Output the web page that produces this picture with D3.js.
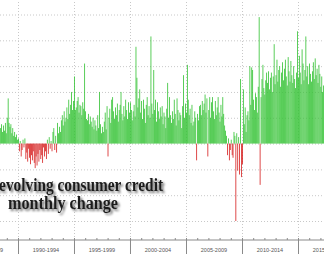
<!DOCTYPE html>
<html>
<head>
<meta charset="utf-8">
<script src="https://cdn.jsdelivr.net/npm/d3@7"></script>
<style>
  body { margin: 0; background: #fff; }
  svg { display: block; }
  .grid line { stroke: #c8c8c8; stroke-dasharray: 1,2; }
  .grid path { display: none; }
  .ticks line { stroke: #8a8a8a; }
  .ticks path { display: none; }
  .period { font-family: 'Liberation Sans', Arial, sans-serif; font-size: 5.5px; fill: #555; }
  .title { font-family: 'Liberation Serif', serif; font-weight: bold; font-size: 18px; fill: #1e1e1e; }
</style>
</head>
<body>
<svg width="324" height="254"></svg>
<script>
// revolving consumer credit, monthly change (first bar = Jun 1988)
const firstMonth = new Date(1988, 5, 1);

const v1988_1989 = [1.2, 1.5, 0.9, 1.4, 1.0, 1.6, 0.8, 2.0, 3.5, 1.6, 1.3, 1.5, 0.8, 1.2, 0.6, 0.9, 0.5, 0.7, 0.3];

const v1990_1994 = [
  0.4, -0.6, 0.2, -1.0, -0.5, 0.3, -0.3, 0.4, -1.2, -0.7, -1.4, -0.4,
  -1.1, -1.6, -0.9, -1.3, -0.6, -1.5, -1.9, -1.0, -1.7, -0.8, -1.4, -0.5,
  -1.2, -0.9, -1.5, -0.3, -1.0, -0.6, -1.2, 0.3, -0.8, 0.5, -0.4, 0.2,
  -0.6, 0.9, 1.2, -0.5, 0.6, -0.7, 1.6, 0.8, 1.3, 0.9, 1.8, 2.2,
  1.4, 2.5, 1.7, 2.0, 2.8, 1.9, 3.4, 2.3, 3.0, 4.0, 2.6, 3.3
];

const v1995_1999 = [
  5.2, 2.6, 2.8, 3.3, 3.6, 2.4, 3.0, 2.9, 2.2, 3.2, 2.7, 6.2,
  2.5, 1.9, 1.8, 2.3, 1.5, 2.1, 1.7, 1.3, 2.0, 1.1, 1.8, 1.4,
  1.0, 2.2, 1.2, 4.0, 1.5, 0.8, 1.3, 0.9, 1.7, 2.4, 1.1, 2.9,
  -1.0, 2.0, 2.7, 1.6, 3.4, 3.6, 2.5, 1.9, 2.8, 2.2, 3.1, 1.7,
  2.6, 3.0, 4.0, 2.3, 1.8, 2.9, 2.1, 3.4, 2.6, 1.9, 3.2, 2.4
];

const v2000_2004 = [
  3.2, 2.6, 1.8, 2.5, 3.0, 2.1, 7.5, 5.1, 2.8, 3.5, 4.2, 2.4,
  3.3, 1.9, 3.4, 2.7, 1.6, 3.0, 3.6, 2.2, 2.9, 2.0, 8.3, 3.1,
  2.3, 5.7, 2.6, 3.4, 1.7, 3.2, 2.5, 1.9, 2.8, 2.1, 2.9, 1.5,
  2.4, 2.1, 1.2, 2.7, 4.7, 2.0, 3.6, 2.2, 1.6, 2.5, 1.9, 3.4,
  2.3, 1.4, 3.5, 2.6, 1.8, 2.4, 2.2, 1.2, 2.9, 5.3, 2.0, 3.1
];

const v2005_2009 = [
  2.4, 6.1, 3.4, 2.2, 2.7, 1.6, 3.0, 1.4, 1.7, 2.5, 2.0, -1.3,
  2.3, 1.8, 2.9, 3.0, 2.2, 3.3, 2.6, 3.1, 3.8, 2.4, 3.5, -1.0,
  2.6, 3.6, 2.0, 3.2, 3.6, 2.5, 1.9, 3.3, 2.2, 2.8, 3.6, 2.4,
  1.7, 3.0, 2.1, 3.6, 2.3, 1.4, 1.0, 0.6, -0.9, 0.4, -1.3, -0.5,
  0.3, -0.9, -1.1, 0.9, 0.6, -6.0, 0.8, -2.1, 0.5, -2.4, 5.0, -2.6
];

const v2010_2014 = [
  -1.6, 4.2, 1.5, 2.8, 0.9, 2.2, 2.5, 1.8, 6.0, 3.0, 5.9, 5.7,
  3.4, 2.6, 3.9, 3.6, 2.4, 4.4, 9.8, -3.2, 3.6, 5.0, 6.1, 4.3,
  3.8, 4.9, 5.5, 4.7, 5.6, 4.2, 5.1, 5.5, 4.0, 5.2, 7.7, 4.6,
  5.3, 6.5, 4.8, 5.7, 6.0, 4.4, 5.5, 6.3, 4.9, 5.8, 6.5, 5.2,
  4.5, 6.7, 5.6, 4.8, 6.4, 5.3, 4.7, 6.0, 5.0, 4.3, 5.5, 8.7
];

const v2015_2017 = [
  5.1, 6.8, 5.5, 4.6, 7.3, 6.2, 4.9, 5.7, 8.3, 5.2, 6.0, 4.6,
  6.2, 5.4, 4.8, 5.6, 6.3, 5.0, 6.6, 5.3, 5.8, 4.7, 6.1, 5.4,
  4.4, 5.2, 4.0, 4.5
];

const periodLabels = ['1985-1989', '1990-1994', '1995-1999', '2000-2004', '2005-2009', '2010-2014', '2015-2019'];
const periodStarts = [1985, 1990, 1995, 2000, 2005, 2010, 2015];
const gridValues = [-6, -4, -2, 0, 2, 4, 6, 8, 10];
const titleLines = ['Revolving consumer credit', 'monthly change'];

const values = [].concat(v1988_1989, v1990_1994, v1995_1999, v2000_2004, v2005_2009, v2010_2014, v2015_2017);
const data = values.map((v, i) => ({ date: d3.timeMonth.offset(firstMonth, i), value: v }));

const W = 324, H = 254;
const axisY = 240;
const svg = d3.select('svg');

const x = d3.scaleTime()
  .domain([new Date(1990, 0, 1), new Date(2015, 0, 1)])
  .range([18, 298]);

const y = d3.scaleLinear()
  .domain([-6, 10])
  .range([221, 14.5]);

const step = x(new Date(1990, 1, 1)) - x(new Date(1990, 0, 1));

// horizontal dotted grid
svg.append('g')
  .attr('class', 'grid')
  .call(d3.axisLeft(y).tickValues(gridValues).tickSize(-W).tickFormat(''));

// vertical dotted grid at period boundaries
const majorDates = periodStarts.map((yr) => new Date(yr, 0, 1));
svg.append('g')
  .attr('class', 'grid')
  .attr('transform', `translate(0, ${axisY})`)
  .call(d3.axisBottom(x).tickValues(majorDates).tickSize(-axisY).tickFormat(''));

// bars
svg.append('g')
  .selectAll('rect')
  .data(data)
  .enter()
  .append('rect')
  .attr('x', (d) => x(d.date))
  .attr('y', (d) => y(Math.max(0, d.value)))
  .attr('width', step * 0.85)
  .attr('height', (d) => Math.abs(y(d.value) - y(0)))
  .attr('fill', (d) => d.value < 0 ? '#d62020' : '#33c233');

// axis line + ticks
svg.append('line')
  .attr('x1', 0).attr('x2', W)
  .attr('y1', axisY).attr('y2', axisY)
  .attr('stroke', '#8a8a8a');

const yearDates = d3.range(1986, 2018).map((yr) => new Date(yr, 0, 1));
svg.append('g')
  .attr('class', 'ticks')
  .attr('transform', `translate(0, ${axisY})`)
  .call(d3.axisBottom(x).tickValues(yearDates).tickSize(-2).tickFormat(''));

svg.append('g')
  .attr('class', 'ticks')
  .attr('transform', `translate(0, ${axisY})`)
  .call(d3.axisBottom(x).tickValues(majorDates).tickSize(H - axisY).tickFormat(''));

svg.append('g')
  .selectAll('text')
  .data(periodLabels)
  .enter()
  .append('text')
  .attr('class', 'period')
  .attr('x', (d, i) => x(new Date(periodStarts[i] + 2, 6, 1)))
  .attr('y', 252)
  .attr('text-anchor', 'middle')
  .text((d) => d);

// title with drop shadow
const defs = svg.append('defs');
defs.append('filter')
  .attr('id', 'shadow')
  .attr('x', '-10%').attr('y', '-30%')
  .attr('width', '130%').attr('height', '170%')
  .append('feDropShadow')
  .attr('dx', 2).attr('dy', 2)
  .attr('stdDeviation', 1.3)
  .attr('flood-color', '#000')
  .attr('flood-opacity', 0.55);

const titlePos = [
  { x: -12, y: 191, len: 175 },
  { x: 8, y: 209, len: 110 }
];

svg.append('g')
  .attr('filter', 'url(#shadow)')
  .selectAll('text')
  .data(titleLines)
  .enter()
  .append('text')
  .attr('class', 'title')
  .attr('x', (d, i) => titlePos[i].x)
  .attr('y', (d, i) => titlePos[i].y)
  .attr('textLength', (d, i) => titlePos[i].len)
  .attr('lengthAdjust', 'spacingAndGlyphs')
  .text((d) => d);
</script>
</body>
</html>
